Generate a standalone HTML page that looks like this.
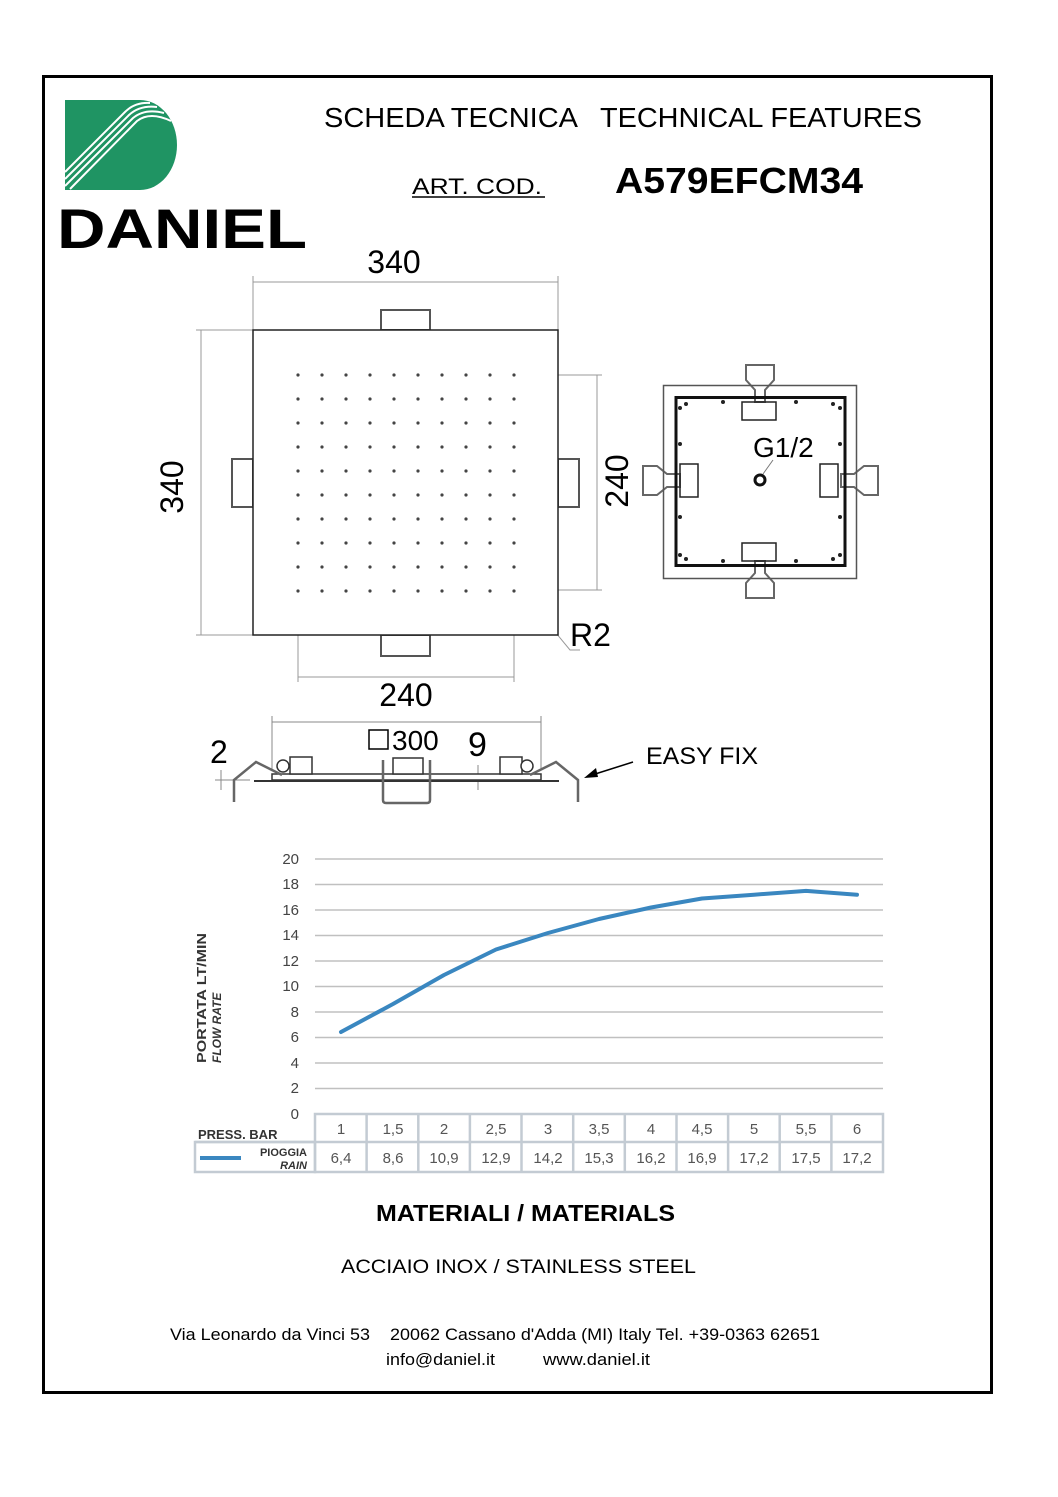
<!DOCTYPE html>
<html><head><meta charset="utf-8"><style>
body{margin:0;background:#fff;}
svg{display:block;font-family:"Liberation Sans",Arial,sans-serif;}
</style></head><body>
<svg width="1058" height="1497" viewBox="0 0 1058 1497">
<defs>
<pattern id="dots" x="286" y="363" width="24" height="24" patternUnits="userSpaceOnUse"><circle cx="12" cy="12" r="1.6" fill="#444"/></pattern>
</defs>
<rect x="43.5" y="76.5" width="948" height="1316" fill="none" stroke="#000" stroke-width="3"/>
<!-- logo -->
<path d="M65 100 H140 A37 45 0 0 1 140 190 H65 Z" fill="#1f9463"/>
<g stroke="#fff" stroke-width="2" fill="none">
<path d="M65 172 L125 112 Q135 102 150 103"/><path d="M65 179 L129 115 Q140 105 157 107"/><path d="M65 186 L133 118 Q145 108 164 113"/><path d="M70 189 L137 121 Q150 111 171 121"/>
</g>
<text x="57" y="248" font-size="56" font-weight="bold" font-family="Liberation Sans,sans-serif" textLength="250" lengthAdjust="spacingAndGlyphs">DANIEL</text>
<text x="324" y="127" font-size="28" textLength="254" lengthAdjust="spacingAndGlyphs">SCHEDA TECNICA</text>
<text x="600" y="127" font-size="28" textLength="322" lengthAdjust="spacingAndGlyphs">TECHNICAL FEATURES</text>
<text x="412" y="194" font-size="22" textLength="130" lengthAdjust="spacingAndGlyphs">ART. COD.</text>
<line x1="412" y1="197" x2="545" y2="197" stroke="#000" stroke-width="1.5"/>
<text x="615" y="193" font-size="36" font-weight="bold" textLength="248" lengthAdjust="spacingAndGlyphs">A579EFCM34</text>
<!-- top view -->
<g stroke="#999" stroke-width="1" fill="none">
<line x1="253" y1="282" x2="558" y2="282"/><line x1="253" y1="276" x2="253" y2="330"/><line x1="558" y1="276" x2="558" y2="330"/>
<line x1="201" y1="330" x2="201" y2="635"/><line x1="196" y1="330" x2="253" y2="330"/><line x1="196" y1="635" x2="253" y2="635"/>
<line x1="597" y1="375" x2="597" y2="590"/><line x1="514" y1="375" x2="602" y2="375"/><line x1="514" y1="590" x2="602" y2="590"/>
<line x1="298" y1="677" x2="514" y2="677"/><line x1="298" y1="590" x2="298" y2="682"/><line x1="514" y1="590" x2="514" y2="682"/>
<polyline points="556,633 570,650 580,650"/>
</g>
<g stroke="#555" stroke-width="2" fill="#fff">
<rect x="381" y="310" width="49" height="20"/><rect x="381" y="635" width="49" height="21"/>
<rect x="232" y="459" width="21" height="48"/><rect x="558" y="459" width="21" height="48"/>
</g>
<rect x="253" y="330" width="305" height="305" fill="#fff" stroke="#222" stroke-width="1.5"/>
<rect x="286" y="363" width="240" height="240" fill="url(#dots)"/>
<text x="394" y="273" font-size="32" text-anchor="middle">340</text>
<text x="406" y="706" font-size="32" text-anchor="middle">240</text>
<text x="183" y="487" font-size="32" text-anchor="middle" transform="rotate(-90 183 487)">340</text>
<text x="628" y="481" font-size="32" text-anchor="middle" transform="rotate(-90 628 481)">240</text>
<text x="570" y="646" font-size="32">R2</text>
<!-- back view -->
<g fill="none" stroke="#666" stroke-width="2">
<path d="M746 365 H774 V380 L765 390 V402 H755 V390 L746 380 Z"/>
<path d="M746 598 H774 V583 L765 573 V561 H755 V573 L746 583 Z"/>
<path d="M643 466 V495 H657 L667 487 H680 V474 H667 L657 466 Z"/>
<path d="M878 466 V495 H864 L854 487 H841 V474 H854 L864 466 Z"/>
</g>
<rect x="663.5" y="385.5" width="193" height="193" fill="none" stroke="#555" stroke-width="1.5"/>
<rect x="676" y="397.5" width="169" height="168" fill="none" stroke="#111" stroke-width="3"/>
<g fill="none" stroke="#222" stroke-width="1.5">
<rect x="742" y="402" width="34" height="18"/><rect x="742" y="543" width="34" height="18"/>
<rect x="680" y="464" width="18" height="33"/><rect x="820" y="464" width="18" height="33"/>
</g>
<g fill="#222">
<circle cx="686" cy="404" r="2"/><circle cx="723" cy="402" r="2"/><circle cx="796" cy="402" r="2"/><circle cx="833" cy="404" r="2"/>
<circle cx="686" cy="559" r="2"/><circle cx="723" cy="561" r="2"/><circle cx="796" cy="561" r="2"/><circle cx="833" cy="559" r="2"/>
<circle cx="680" cy="408" r="2"/><circle cx="680" cy="444" r="2"/><circle cx="680" cy="517" r="2"/><circle cx="680" cy="555" r="2"/>
<circle cx="840" cy="408" r="2"/><circle cx="840" cy="444" r="2"/><circle cx="840" cy="517" r="2"/><circle cx="840" cy="555" r="2"/>
</g>
<circle cx="760" cy="480" r="5" fill="none" stroke="#111" stroke-width="3"/>
<line x1="763" y1="474" x2="773" y2="460" stroke="#777"/>
<text x="753" y="457" font-size="28">G1/2</text>
<!-- side view -->
<g stroke="#888" fill="none" stroke-width="1">
<line x1="272" y1="722" x2="541" y2="722"/><line x1="272" y1="716" x2="272" y2="770"/><line x1="541" y1="716" x2="541" y2="770"/>
<line x1="221" y1="770" x2="221" y2="790"/><line x1="215" y1="780" x2="250" y2="780"/>
<line x1="478" y1="765" x2="478" y2="790"/>
</g>
<rect x="272" y="774" width="269" height="6" fill="#fff" stroke="#333" stroke-width="1.5"/>
<line x1="254" y1="781" x2="559" y2="781" stroke="#333" stroke-width="2"/>
<g stroke="#666" stroke-width="2.5" fill="none">
<path d="M234 802 V780 L256 762 L282 775"/><path d="M578 802 V780 L556 762 L530 775"/>
<path d="M383 760 V800 Q383 803 386 803 H427 Q430 803 430 800 V760"/>
</g>
<g stroke="#333" stroke-width="1.5" fill="#fff">
<rect x="290" y="757" width="22" height="17"/><rect x="500" y="757" width="22" height="17"/><rect x="393" y="758" width="30" height="16"/>
<circle cx="283" cy="766" r="6"/><circle cx="527" cy="766" r="6"/>
</g>
<text x="210" y="763" font-size="32">2</text>
<rect x="369" y="730" width="19" height="19" fill="none" stroke="#000" stroke-width="1.5"/>
<text x="392" y="750" font-size="28">300</text>
<text x="468" y="756" font-size="34">9</text>
<line x1="633" y1="762" x2="592" y2="775" stroke="#000" stroke-width="1.5"/>
<polygon points="584,778 596,768 598,777" fill="#000"/>
<text x="646" y="764" font-size="24" textLength="112" lengthAdjust="spacingAndGlyphs">EASY FIX</text>
<!-- chart -->
<g stroke="#c0c0c0" stroke-width="1.5">
<line x1="315" y1="859" x2="883" y2="859"/><line x1="315" y1="884.5" x2="883" y2="884.5"/><line x1="315" y1="910" x2="883" y2="910"/><line x1="315" y1="935.5" x2="883" y2="935.5"/><line x1="315" y1="961" x2="883" y2="961"/><line x1="315" y1="986.5" x2="883" y2="986.5"/><line x1="315" y1="1012" x2="883" y2="1012"/><line x1="315" y1="1037.5" x2="883" y2="1037.5"/><line x1="315" y1="1063" x2="883" y2="1063"/><line x1="315" y1="1088.5" x2="883" y2="1088.5"/>
</g>
<g font-size="15" fill="#444" text-anchor="end">
<text x="299" y="864">20</text><text x="299" y="889">18</text><text x="299" y="915">16</text><text x="299" y="940">14</text><text x="299" y="966">12</text><text x="299" y="991">10</text><text x="299" y="1017">8</text><text x="299" y="1042">6</text><text x="299" y="1068">4</text><text x="299" y="1093">2</text><text x="299" y="1119">0</text>
</g>
<polyline points="341,1032 393,1004 444,975 496,949.5 548,933 599,919 651,907.5 702,898.5 754,894.7 806,890.9 857,894.7" fill="none" stroke="#3a87c0" stroke-width="4" stroke-linejoin="round" stroke-linecap="round"/>
<text x="206" y="1063" font-size="13" font-weight="bold" fill="#333" transform="rotate(-90 206 1063)" textLength="130" lengthAdjust="spacingAndGlyphs">PORTATA  LT/MIN</text>
<text x="221" y="1063" font-size="12" font-weight="bold" font-style="italic" fill="#333" transform="rotate(-90 221 1063)">FLOW RATE</text>
<g fill="none" stroke="#c3cbd3" stroke-width="2.5">
<rect x="315" y="1114" width="568" height="58"/><line x1="195" y1="1142" x2="883" y2="1142"/>
<rect x="195" y="1142" width="120" height="30"/>
<line x1="366.6" y1="1114" x2="366.6" y2="1172"/><line x1="418.3" y1="1114" x2="418.3" y2="1172"/><line x1="469.9" y1="1114" x2="469.9" y2="1172"/><line x1="521.5" y1="1114" x2="521.5" y2="1172"/><line x1="573.2" y1="1114" x2="573.2" y2="1172"/><line x1="624.8" y1="1114" x2="624.8" y2="1172"/><line x1="676.5" y1="1114" x2="676.5" y2="1172"/><line x1="728.1" y1="1114" x2="728.1" y2="1172"/><line x1="779.7" y1="1114" x2="779.7" y2="1172"/><line x1="831.4" y1="1114" x2="831.4" y2="1172"/>
</g>
<text x="198" y="1139" font-size="13" font-weight="bold" fill="#333">PRESS. BAR</text>
<line x1="200" y1="1158" x2="241" y2="1158" stroke="#3a87c0" stroke-width="4"/>
<text x="307" y="1156" font-size="11" font-weight="bold" fill="#333" text-anchor="end">PIOGGIA</text>
<text x="307" y="1169" font-size="11" font-weight="bold" font-style="italic" fill="#333" text-anchor="end">RAIN</text>
<g font-size="15" fill="#555" text-anchor="middle">
<text x="341" y="1134">1</text><text x="393" y="1134">1,5</text><text x="444" y="1134">2</text><text x="496" y="1134">2,5</text><text x="548" y="1134">3</text><text x="599" y="1134">3,5</text><text x="651" y="1134">4</text><text x="702" y="1134">4,5</text><text x="754" y="1134">5</text><text x="806" y="1134">5,5</text><text x="857" y="1134">6</text>
<text x="341" y="1163">6,4</text><text x="393" y="1163">8,6</text><text x="444" y="1163">10,9</text><text x="496" y="1163">12,9</text><text x="548" y="1163">14,2</text><text x="599" y="1163">15,3</text><text x="651" y="1163">16,2</text><text x="702" y="1163">16,9</text><text x="754" y="1163">17,2</text><text x="806" y="1163">17,5</text><text x="857" y="1163">17,2</text>
</g>
<text x="376" y="1221" font-size="23" font-weight="bold" textLength="299" lengthAdjust="spacingAndGlyphs">MATERIALI / MATERIALS</text>
<text x="341" y="1273" font-size="19" textLength="355" lengthAdjust="spacingAndGlyphs">ACCIAIO INOX / STAINLESS STEEL</text>
<text x="170" y="1340" font-size="17" textLength="200" lengthAdjust="spacingAndGlyphs">Via Leonardo da Vinci 53</text>
<text x="390" y="1340" font-size="17" textLength="430" lengthAdjust="spacingAndGlyphs">20062 Cassano d'Adda (MI) Italy Tel. +39-0363 62651</text>
<text x="386" y="1365" font-size="17" textLength="109" lengthAdjust="spacingAndGlyphs">info@daniel.it</text>
<text x="543" y="1365" font-size="17" textLength="107" lengthAdjust="spacingAndGlyphs">www.daniel.it</text>
</svg>
</body></html>
